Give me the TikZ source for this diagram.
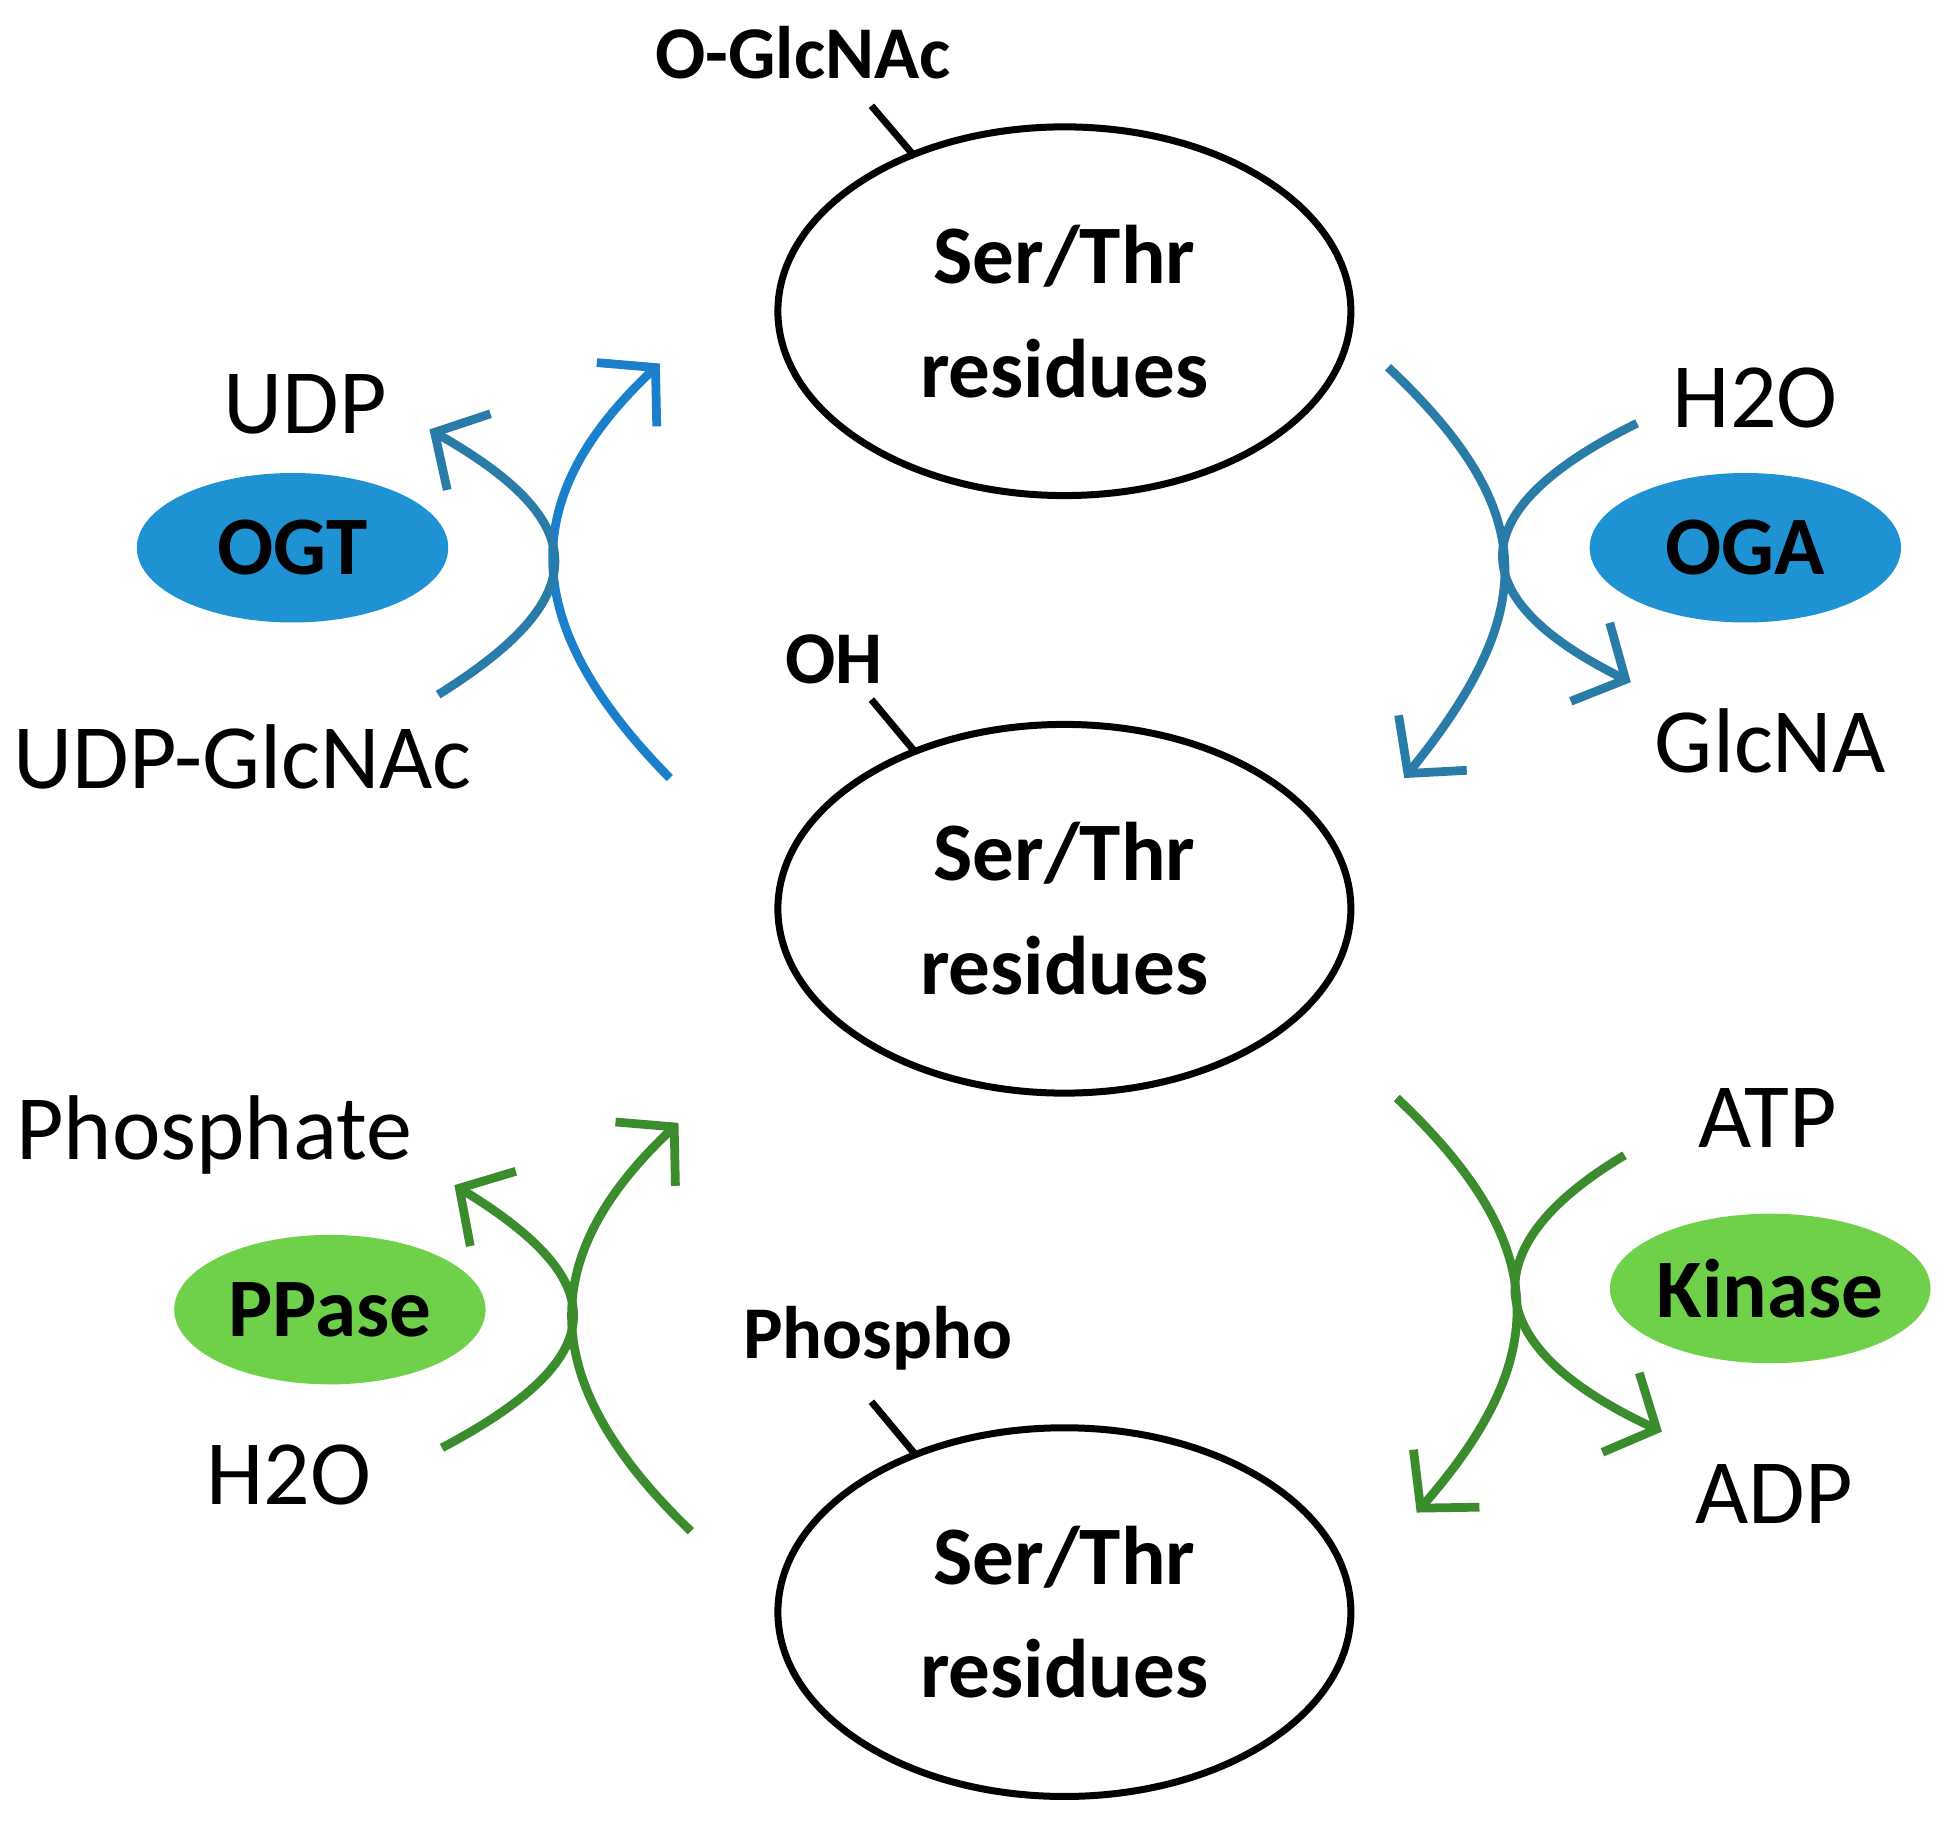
\documentclass[tikz,border=0pt]{standalone}
\usepackage{fontspec}
\setmainfont{Carlito}
\usetikzlibrary{arrows.meta,shapes.geometric}
\definecolor{blueA}{HTML}{2A7CA8}
\definecolor{blueB}{HTML}{1A80CC}
\definecolor{enzB}{HTML}{1E92D2}
\definecolor{grn}{HTML}{3A8C2C}
\definecolor{enzG}{HTML}{6FD04A}
\begin{document}
\begin{tikzpicture}[x=0.01cm,y=-0.01cm,
 res/.style={draw,line width=1.6pt,ellipse,minimum width=4.6cm,minimum height=2.96cm,inner sep=0,font=\bfseries\fontsize{19}{26}\selectfont,align=center},
 enz/.style={ellipse,minimum width=2.5cm,minimum height=1.2cm,inner sep=0,font=\bfseries\fontsize{19}{24}\selectfont},
 lab/.style={font=\fontsize{21}{25}\selectfont},
 blab/.style={font=\bfseries\fontsize{17}{20}\selectfont},
 arr/.style={line width=2pt,-{Straight Barb[length=9pt,width=20pt,line width=2pt]}}]
\useasboundingbox (0,0) rectangle (1568,1464);
\node[res] (r1) at (855,250) {Ser/Thr\\residues};
\node[res] (r2) at (855,730) {Ser/Thr\\residues};
\node[res] (r3) at (855,1295) {Ser/Thr\\residues};
\node[blab] (og) at (645,42) {O-GlcNAc};
\node[blab] (oh) at (670,530) {OH};
\node[blab] (ph) at (705,1075) {Phospho};
\coordinate (t1) at (700,85); \coordinate (t1e) at (735,126);
\coordinate (t2) at (700,562); \coordinate (t2e) at (735,604);
\coordinate (t3) at (700,1126); \coordinate (t3e) at (735,1168);
\draw[line width=1.6pt] (t1)--(t1e); \draw[line width=1.6pt] (t2)--(t2e); \draw[line width=1.6pt] (t3)--(t3e);
\node[enz,fill=enzB] (ogt) at (235,440) {OGT};
\node[enz,fill=enzB] (oga) at (1402,440) {OGA};
\node[enz,fill=enzG] (pp) at (265,1052) {PPase};
\node[enz,fill=enzG] (kin) at (1422,1035) {Kinase};
\node[lab] (udp) at (245,325) {UDP};
\node[lab] (udpg) at (195,608) {UDP-GlcNAc};
\node[lab] (h2oa) at (1410,320) {H2O};
\node[lab] (glc) at (1422,595) {GlcNA};
\node[lab] (pho) at (172,912) {Phosphate};
\node[lab] (h2ob) at (232,1185) {H2O};
\node[lab] (atp) at (1420,898) {ATP};
\node[lab] (adp) at (1425,1200) {ADP};
% blue left
\coordinate (a1) at (538,625); \coordinate (a1e) at (530,292);
\coordinate (a2) at (352,558); \coordinate (a2e) at (345,345);
\draw[arr,blueB] (a1) .. controls (415,500) and (415,400) .. (a1e);
\draw[arr,blueA] (a2) .. controls (477,480) and (477,420) .. (a2e);
% blue right
\coordinate (b1) at (1115,295); \coordinate (b1e) at (1128,625);
\coordinate (b2) at (1315,340); \coordinate (b2e) at (1310,548);
\draw[arr,blueA] (b1) .. controls (1237,410) and (1237,490) .. (b1e);
\draw[arr,blueA] (b2) .. controls (1173,410) and (1173,480) .. (b2e);
% green left
\coordinate (c1) at (555,1230); \coordinate (c1e) at (545,902);
\coordinate (c2) at (355,1163); \coordinate (c2e) at (365,952);
\draw[arr,grn] (c1) .. controls (430,1110) and (430,1010) .. (c1e);
\draw[arr,grn] (c2) .. controls (493,1090) and (493,1030) .. (c2e);
% green right
\coordinate (d1) at (1122,882); \coordinate (d1e) at (1138,1215);
\coordinate (d2) at (1305,928); \coordinate (d2e) at (1335,1150);
\draw[arr,grn] (d1) .. controls (1247,1000) and (1247,1090) .. (d1e);
\draw[arr,grn] (d2) .. controls (1184,1000) and (1184,1080) .. (d2e);
\end{tikzpicture}
\end{document}
